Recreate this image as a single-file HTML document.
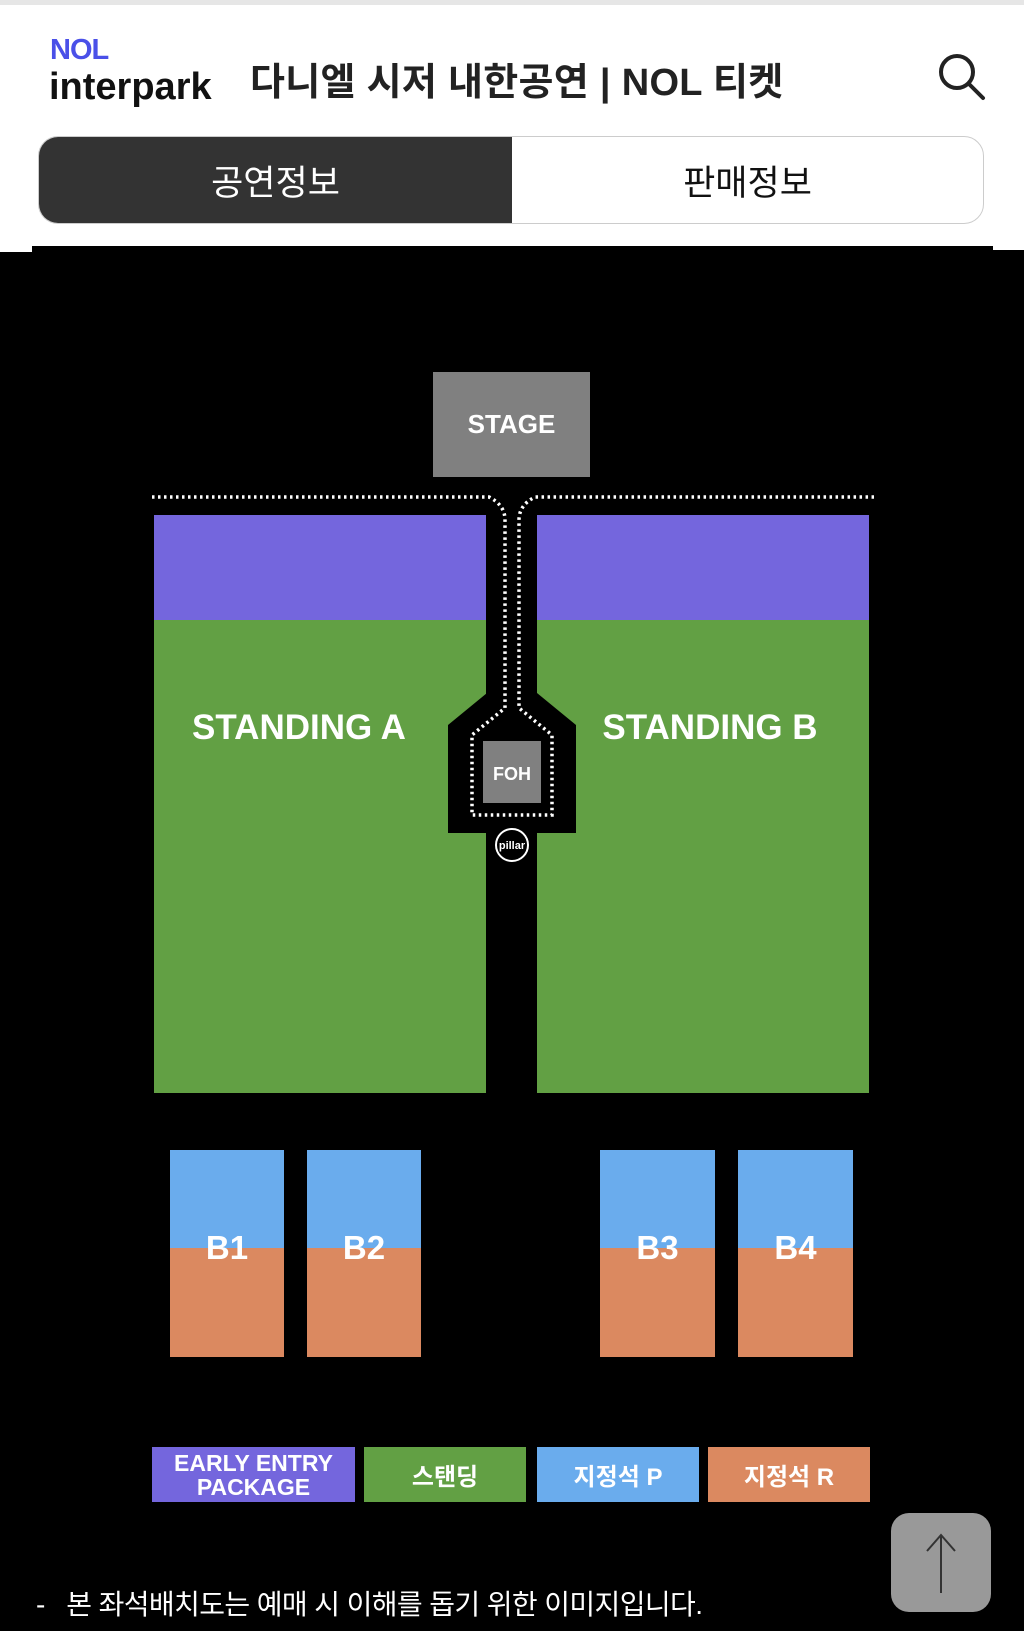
<!DOCTYPE html>
<html><head><meta charset="utf-8"><style>
body{margin:0;width:1024px;height:1631px;background:#000;position:relative;overflow:hidden;font-family:"Liberation Sans","Noto Sans CJK KR",sans-serif}
.a{position:absolute}
.c{display:flex;align-items:center;justify-content:center;color:#fff;font-weight:bold}
</style></head><body>
<div class="a" style="left:0;top:0;width:1024px;height:250px;background:#fff"></div>
<div class="a" style="left:0;top:0;width:1024px;height:5px;background:#e6e6e6"></div>
<div class="a" style="left:0;top:242px;width:32px;height:10px;background:#fff"></div>
<div class="a" style="left:32px;top:246px;width:961px;height:10px;background:#000"></div>
<div class="a" style="left:50px;top:34px;color:#4a50e8;font-weight:bold;font-size:29px;letter-spacing:-1px">NOL</div>
<div class="a" style="left:49px;top:66px;color:#111;font-weight:bold;font-size:38px;letter-spacing:0px">interpark</div>
<div class="a" style="left:250px;top:51px;color:#222;font-weight:bold;font-size:38px;letter-spacing:0.3px">다니엘 시저 내한공연 | NOL 티켓</div>
<svg class="a" style="left:935px;top:50px" width="56" height="52"><circle cx="22" cy="22" r="16" fill="none" stroke="#222" stroke-width="4"/><line x1="34" y1="34" x2="48" y2="48" stroke="#222" stroke-width="4" stroke-linecap="round"/></svg>
<div class="a" style="left:38px;top:136px;width:944px;height:86px;border:1px solid #ccc;border-radius:20px;overflow:hidden;background:#fff">
<div class="a c" style="left:0;top:0;width:473px;height:86px;background:#333;font-weight:normal;font-size:35px">공연정보</div>
<div class="a c" style="left:473px;top:0;width:471px;height:86px;color:#111;font-weight:normal;font-size:35px">판매정보</div>
</div>
<div class="a c" style="left:433px;top:372px;width:157px;height:105px;background:#808080;font-size:26px">STAGE</div>
<div class="a" style="left:154px;top:515px;width:332px;height:105px;background:#7466dd"></div>
<div class="a" style="left:154px;top:620px;width:332px;height:473px;background:#62a044"></div>
<div class="a" style="left:537px;top:515px;width:332px;height:105px;background:#7466dd"></div>
<div class="a" style="left:537px;top:620px;width:332px;height:473px;background:#62a044"></div>
<svg class="a" style="left:0;top:0" width="1024" height="1631">
<polygon points="487,693 537,693 576,725 576,833 448,833 448,725" fill="#000"/>
<rect x="487" y="515" width="50" height="578" fill="#000"/>
<g fill="none" stroke="#fff" stroke-width="3.5" stroke-dasharray="2.5 3.5">
<path d="M152,497 H489 Q505,505 505,520 V708 L472,735 V815 H552 V735 L519,708 V520 Q519,505 535,497 H874"/>
</g>
<rect x="483" y="741" width="58" height="62" fill="#808080"/>
<text x="512" y="780" fill="#fff" font-size="18" font-weight="bold" text-anchor="middle" font-family="Liberation Sans">FOH</text>
<circle cx="512" cy="845" r="16" fill="#000" stroke="#fff" stroke-width="2"/>
<text x="512" y="849" fill="#fff" font-size="11" font-weight="bold" text-anchor="middle" font-family="Liberation Sans">pillar</text>
</svg>
<div class="a c" style="left:154px;top:705px;width:290px;height:46px;font-size:35px">STANDING A</div>
<div class="a c" style="left:565px;top:705px;width:290px;height:46px;font-size:35px">STANDING B</div>
<div class="a" style="left:170px;top:1150px;width:114px;height:98px;background:#6aaced"></div><div class="a" style="left:170px;top:1248px;width:114px;height:109px;background:#db8960"></div>
<div class="a" style="left:307px;top:1150px;width:114px;height:98px;background:#6aaced"></div><div class="a" style="left:307px;top:1248px;width:114px;height:109px;background:#db8960"></div>
<div class="a" style="left:600px;top:1150px;width:115px;height:98px;background:#6aaced"></div><div class="a" style="left:600px;top:1248px;width:115px;height:109px;background:#db8960"></div>
<div class="a" style="left:738px;top:1150px;width:115px;height:98px;background:#6aaced"></div><div class="a" style="left:738px;top:1248px;width:115px;height:109px;background:#db8960"></div>
<div class="a c" style="left:170px;top:1228px;width:114px;height:40px;font-size:33px">B1</div>
<div class="a c" style="left:307px;top:1228px;width:114px;height:40px;font-size:33px">B2</div>
<div class="a c" style="left:600px;top:1228px;width:115px;height:40px;font-size:33px">B3</div>
<div class="a c" style="left:738px;top:1228px;width:115px;height:40px;font-size:33px">B4</div>
<div class="a c" style="left:152px;top:1447px;width:203px;height:55px;background:#7466dd;font-size:23px;line-height:24px;text-align:center">EARLY ENTRY<br>PACKAGE</div>
<div class="a c" style="left:364px;top:1447px;width:162px;height:55px;background:#62a044;font-size:24px">스탠딩</div>
<div class="a c" style="left:537px;top:1447px;width:162px;height:55px;background:#6aaced;font-size:24px">지정석 P</div>
<div class="a c" style="left:708px;top:1447px;width:162px;height:55px;background:#db8960;font-size:24px">지정석 R</div>
<div class="a" style="left:36px;top:1583px;color:#fff;font-size:28px;white-space:nowrap;letter-spacing:-0.6px">-&nbsp;&nbsp; 본 좌석배치도는 예매 시 이해를 돕기 위한 이미지입니다.</div>
<div class="a" style="left:891px;top:1513px;width:100px;height:99px;background:#999;border-radius:18px"></div>
<svg class="a" style="left:891px;top:1513px" width="100" height="99"><path d="M50,80 V22 M36,38 L50,22 L64,38" stroke="#333" stroke-width="2" fill="none"/></svg>
</body></html>
